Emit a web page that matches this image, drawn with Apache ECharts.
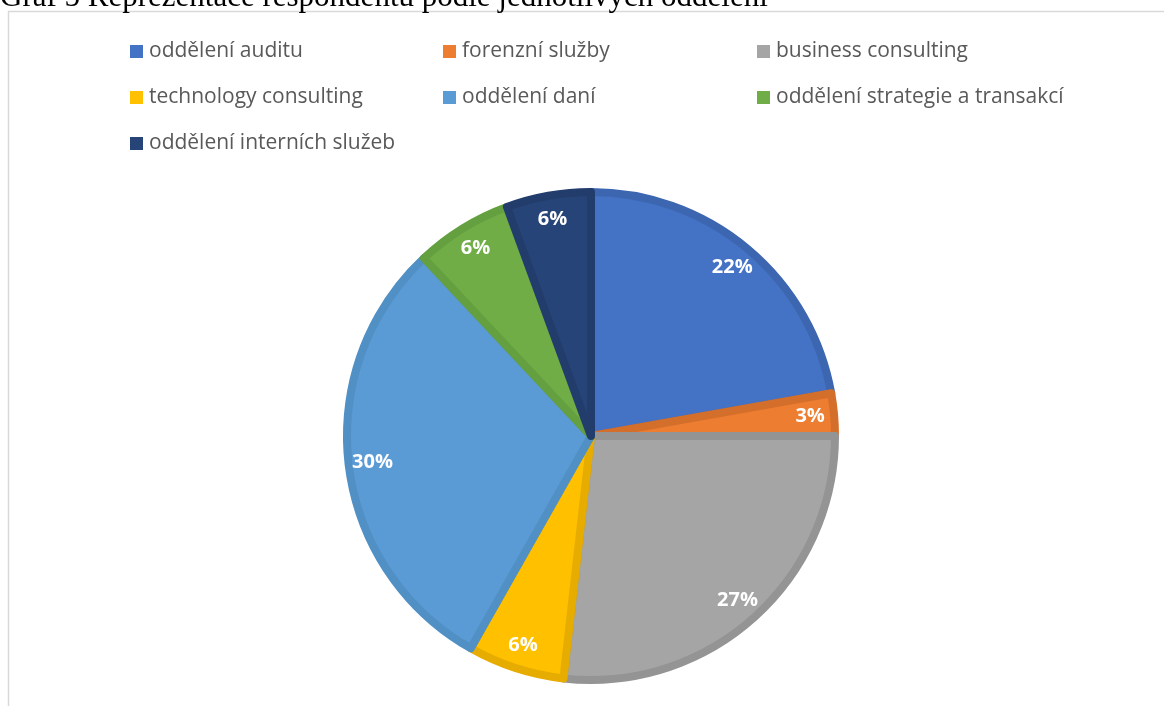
<!DOCTYPE html>
<html><head><meta charset="utf-8">
<script src="https://cdn.jsdelivr.net/npm/echarts@6/dist/echarts.min.js"></script>
<style>html,body{margin:0;padding:0;background:#fff}#c{width:1164px;height:706px}</style>
</head><body><div id="c"></div>
<script>
const titleText = "Graf 5 Reprezentace respondentů podle jednotlivých oddělení";
const categories = ["oddělení auditu","forenzní služby","business consulting","technology consulting","oddělení daní","oddělení strategie a transakcí","oddělení interních služeb"];
const shares = [22.2, 2.8, 26.8, 6.4, 29.8, 6.4, 5.6];
const fillColors = ["#4472C4","#ED7D31","#A5A5A5","#FFC000","#5B9BD5","#70AD47","#264478"];
const borderColors = ["#3D66B0","#D46F2B","#949494","#E6AC00","#5190C5","#64A03F","#223D6C"];
const legendCols = [
  ["oddělení auditu","technology consulting","oddělení interních služeb"],
  ["forenzní služby","oddělení daní"],
  ["business consulting","oddělení strategie a transakcí"]
];
const legendLeft = [125, 438, 752];

const chart = echarts.init(document.getElementById('c'), null, {renderer:'canvas'});
const cx = 591, cy = 436, R = 248;
const mainData = categories.map((n,i)=>({name:n, value:shares[i], itemStyle:{color:fillColors[i], borderColor:borderColors[i], borderWidth:8}}));
const labelData = categories.map((n,i)=>({name:n, value:shares[i]}));
chart.setOption({
  animation:false,
  color: fillColors,
  graphic:[
    {type:'line', shape:{x1:8,y1:11.5,x2:1164,y2:11.5}, style:{stroke:'#d9d9d9', lineWidth:1.5}, z:0},
    {type:'line', shape:{x1:8.5,y1:11,x2:8.5,y2:706}, style:{stroke:'#d9d9d9', lineWidth:1.5}, z:0},
    {type:'text', left:0, top:-18, style:{text:titleText, font:'31px "Liberation Serif"', fill:'#000'}, z:10}
  ],
  legend: legendCols.map((col,k)=>({
    data: col, orient:'vertical', left: legendLeft[k], top: 36, itemGap: 25,
    itemWidth:13, itemHeight:13, icon:'rect',
    itemStyle:{borderWidth:0},
    textStyle:{color:'#595959', fontSize:21, fontFamily:'"Open Sans"', padding:[0,0,0,1]},
    selectedMode:false
  })),
  series:[
    {type:'pie', center:[cx,cy], radius:R-4, startAngle:90, clockwise:true, silent:true,
     label:{show:false}, labelLine:{show:false}, data: mainData},
    {type:'pie', center:[cx,cy], radius:[186,R], startAngle:90, clockwise:true, silent:true,
     itemStyle:{color:'rgba(0,0,0,0)', borderWidth:0}, labelLine:{show:false},
     label:{show:true, position:'inside', color:'#fff', fontSize:20, fontWeight:'bold', fontFamily:'"Open Sans"',
       formatter:p=>Math.round(p.percent)+'%'},
     data: labelData, legendHoverLink:false}
  ]
});
</script></body></html>
